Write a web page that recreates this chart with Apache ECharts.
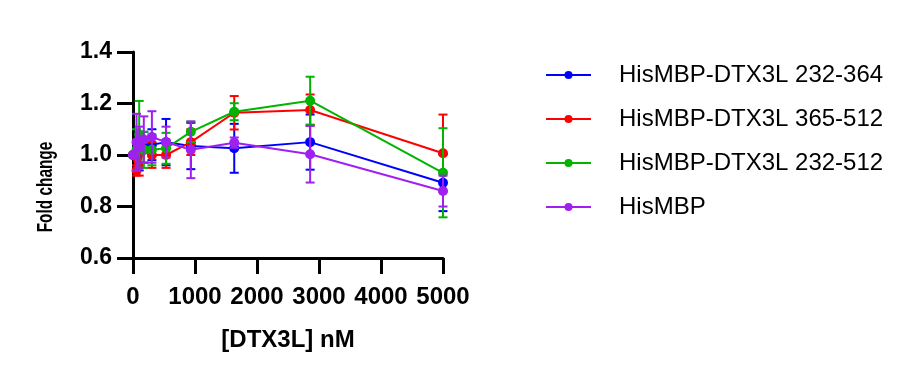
<!DOCTYPE html>
<html>
<head>
<meta charset="utf-8">
<script src="https://cdn.jsdelivr.net/npm/echarts@6/dist/echarts.min.js"></script>
<style>html,body{margin:0;padding:0;background:#fff}#c{width:915px;height:384px}</style>
</head>
<body>
<div id="c"></div>
<script>
const concentrations = [0, 57, 100, 174, 305, 533, 933, 1633, 2857, 5000];
const seriesNames = ['HisMBP-DTX3L 232-364', 'HisMBP-DTX3L 365-512', 'HisMBP-DTX3L 232-512', 'HisMBP'];
const blueMean  = [1.00, 1.00, 1.01, 1.03, 1.04, 1.05, 1.035, 1.026, 1.05, 0.892];
const blueErr   = [0.00, 0.05, 0.07, 0.06, 0.06, 0.09, 0.09, 0.095, 0.107, 0.11];
const redMean   = [1.00, 0.94, 0.96, 1.02, 1.00, 1.00, 1.05, 1.164, 1.175, 1.007];
const redErr    = [0.00, 0.02, 0.04, 0.05, 0.05, 0.05, 0.05, 0.065, 0.06, 0.15];
const greenMean = [1.00, 1.02, 1.08, 1.02, 1.02, 1.026, 1.09, 1.168, 1.211, 0.931];
const greenErr  = [0.00, 0.08, 0.13, 0.07, 0.06, 0.06, 0.04, 0.033, 0.093, 0.173];
const purpleMean= [1.00, 1.05, 1.03, 1.06, 1.07, 1.05, 1.02, 1.048, 1.003, 0.86];
const purpleErr = [0.00, 0.11, 0.08, 0.09, 0.10, 0.06, 0.11, 0.02, 0.11, 0.06];
const xTicks = [0, 1000, 2000, 3000, 4000, 5000];
const yTicks = [0.6, 0.8, 1.0, 1.2, 1.4];
const xTitle = '[DTX3L] nM';
const yTitle = 'Fold change';

const colors = ['#0000FF', '#FF0000', '#00B400', '#A020F0'];
const means = [blueMean, redMean, greenMean, purpleMean];
const errs = [blueErr, redErr, greenErr, purpleErr];
const FONT = 'Arial, "Liberation Sans", sans-serif';

function errSeries(i) {
  return {
    type: 'custom',
    name: 'err' + i,
    z: 2 + i,
    data: concentrations.map((x, k) => [x, means[i][k] - errs[i][k], means[i][k] + errs[i][k]]),
    renderItem: function (params, api) {
      const lo = api.coord([api.value(0), api.value(1)]);
      const hi = api.coord([api.value(0), api.value(2)]);
      const hw = 4.5;
      const st = { stroke: colors[i], lineWidth: 2, fill: null };
      return {
        type: 'group',
        children: [
          { type: 'line', shape: { x1: lo[0], y1: lo[1], x2: hi[0], y2: hi[1] }, style: st },
          { type: 'line', shape: { x1: lo[0] - hw, y1: lo[1], x2: lo[0] + hw, y2: lo[1] }, style: st },
          { type: 'line', shape: { x1: hi[0] - hw, y1: hi[1], x2: hi[0] + hw, y2: hi[1] }, style: st }
        ]
      };
    }
  };
}
function lineSeries(i) {
  return {
    type: 'line',
    name: seriesNames[i],
    z: 2 + i,
    data: concentrations.map((x, k) => [x, means[i][k]]),
    symbol: 'circle',
    symbolSize: 10,
    showSymbol: true,
    lineStyle: { color: colors[i], width: 2 },
    itemStyle: { color: colors[i] }
  };
}
const order = [3, 2, 1, 0];
const series = [];
order.forEach(i => { series.push(errSeries(i)); series.push(lineSeries(i)); });

const chart = echarts.init(document.getElementById('c'));
chart.setOption({
  animation: false,
  backgroundColor: '#fff',
  grid: { left: 133, right: 472, top: 52, bottom: 126, containLabel: false },
  xAxis: {
    type: 'value', min: 0, max: 5000, interval: 1000,
    name: xTitle, nameLocation: 'middle', nameGap: 70,
    nameTextStyle: { fontFamily: FONT, fontWeight: 'bold', fontSize: 24, color: '#000' },
    axisLine: { show: true, lineStyle: { color: '#000', width: 3 } },
    axisTick: { show: true, length: 16, lineStyle: { color: '#000', width: 3 } },
    axisLabel: { fontFamily: FONT, fontWeight: 'bold', fontSize: 24, color: '#000', margin: 27,
      formatter: v => xTicks.includes(v) ? String(v) : '' },
    splitLine: { show: false }
  },
  yAxis: {
    type: 'value', min: 0.6, max: 1.4, interval: 0.2,
    axisLine: { show: true, onZero: false, lineStyle: { color: '#000', width: 3 } },
    axisTick: { show: true, length: 16, lineStyle: { color: '#000', width: 3 } },
    axisLabel: { fontFamily: FONT, fontWeight: 'bold', fontSize: 23, color: '#000', margin: 21,
      formatter: v => { const t = yTicks.find(y => Math.abs(y - v) < 1e-6); return t !== undefined ? t.toFixed(1) : ''; } },
    splitLine: { show: false }
  },
  graphic: [{
    type: 'text', x: 46, y: 187, rotation: Math.PI / 2, scaleX: 0.7,
    style: { text: yTitle, font: 'bold 22px ' + FONT, fill: '#000', align: 'center', verticalAlign: 'middle' }
  }],
  legend: {
    orient: 'vertical', left: 545, top: 63, padding: 0,
    data: seriesNames,
    itemWidth: 45, itemHeight: 10, itemGap: 20,
    textStyle: { fontFamily: FONT, fontSize: 24, color: '#000', padding: [0, 0, 0, 23] }
  },
  series: series
});
</script>
</body>
</html>
